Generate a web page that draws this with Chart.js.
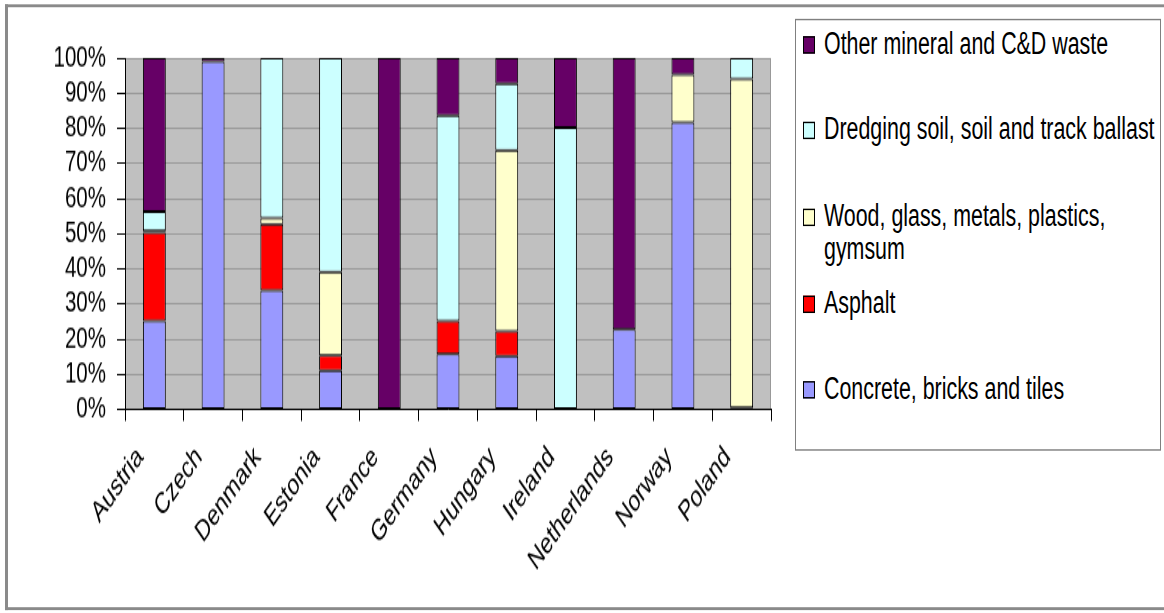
<!DOCTYPE html>
<html>
<head>
<meta charset="utf-8">
<script src="https://cdn.jsdelivr.net/npm/chart.js@4.4.0/dist/chart.umd.min.js"></script>
<style>
  html, body { margin: 0; padding: 0; background: #fff; overflow: hidden; width: 1164px; height: 613px; }
  /* the reference is stretched vertically, so draw at 423px high and stretch */
  #stage { position: absolute; left: 0; top: 0; width: 1164px; height: 423px;
           transform: scaleY(1.4492); transform-origin: 0 0; }
  #frame { position: absolute; left: 5px; top: 3px; width: 1200px; height: 414px;
           border-left: 3px solid #8a8a8a; border-top: 2px solid #8a8a8a; border-bottom: 2px solid #8a8a8a; }
  #chart { position: absolute; left: 0; top: 0; }
  #legend { position: absolute; left: 795px; top: 12.6px; width: 366px; height: 298px;
            border: 1px solid #808080; box-sizing: border-box; background: #fff;
            font-family: 'Liberation Sans', Arial, sans-serif; font-size: 21.4px; color: #000;
            padding-top: 5px; }
  .item { position: relative; height: 59.7px; line-height: 23px; }
  .item .box { position: absolute; left: 7px; top: 6px; width: 10px; height: 10px; border: 1px solid #000; }
  .item .txt { position: absolute; left: 28px; top: 0; width: 337px; white-space: normal; }
</style>
</head>
<body>
<div id="stage">
  <div id="frame"></div>
  <canvas id="chart" width="790" height="423"></canvas>
  <div id="legend"></div>
</div>
<script>
const countries = ['Austria', 'Czech', 'Denmark', 'Estonia', 'France', 'Germany',
  'Hungary', 'Ireland', 'Netherlands', 'Norway', 'Poland'];

// share of each waste type, %
const concrete = [25.2, 99.0, 33.8, 11.0, 0, 15.8, 15.2, 0, 22.8, 81.7, 0.5];
const asphalt  = [25.1, 0, 18.9, 4.4, 0, 9.4, 7.1, 0, 0, 0, 0];
const wood     = [0.5, 0, 1.7, 23.7, 0, 0, 51.4, 0, 0, 13.6, 93.5];
const dredging = [5.5, 0, 45.6, 60.9, 0, 58.4, 19.0, 80.2, 0, 0, 6.0];
const other    = [43.7, 1.0, 0, 0, 100, 16.4, 7.3, 19.8, 77.2, 4.7, 0];

const yStep = 10;
const yMax = 100;

const FONT = "'Liberation Sans', Arial, sans-serif";

function series(label, values, color) {
  return {
    label: label,
    data: values.map(v => v || null),
    backgroundColor: color,
    borderColor: '#000',
    borderWidth: 1,
    borderSkipped: false,
    barPercentage: 0.39,
    categoryPercentage: 1,
  };
}

// grey plot background like the old Excel charts
const plotBg = {
  id: 'plotBg',
  beforeDraw: function (chart) {
    const a = chart.chartArea;
    const ctx = chart.ctx;
    ctx.save();
    ctx.fillStyle = '#c0c0c0';
    ctx.fillRect(a.left, a.top, a.right - a.left, a.bottom - a.top);
    ctx.strokeStyle = '#999';
    ctx.lineWidth = 1;
    ctx.beginPath();
    ctx.moveTo(a.right - 0.5, a.top);
    ctx.lineTo(a.right - 0.5, a.bottom);
    ctx.stroke();
    ctx.restore();
  }
};

const ctx = document.getElementById('chart').getContext('2d');
const chart = new Chart(ctx, {
  type: 'bar',
  data: {
    labels: countries,
    datasets: [
      series('Concrete, bricks and tiles', concrete, '#9999ff'),
      series('Asphalt', asphalt, '#ff0000'),
      series('Wood, glass, metals, plastics, gymsum', wood, '#ffffcc'),
      series('Dredging soil, soil and track ballast', dredging, '#ccffff'),
      series('Other mineral and C&D waste', other, '#660066'),
    ]
  },
  options: {
    responsive: false,
    animation: false,
    layout: { padding: { left: 0, right: 19, top: 40, bottom: 0 } },
    plugins: {
      legend: { display: false },
      tooltip: { enabled: false },
    },
    scales: {
      x: {
        stacked: true,
        afterFit: function (scale) { scale.height = 140.5; },
        border: { color: '#000', width: 1 },
        grid: { drawOnChartArea: false, drawTicks: true, tickLength: 8, tickColor: '#000' },
        ticks: {
          autoSkip: false,
          minRotation: 45,
          maxRotation: 45,
          padding: 13,
          labelOffset: -14,
          color: '#000',
          font: { family: FONT, size: 20.5 },
        },
      },
      y: {
        stacked: true,
        min: 0,
        max: yMax,
        afterFit: function (scale) { scale.width = 125; },
        border: { color: '#000', width: 1 },
        grid: { color: '#999999', lineWidth: 1, tickLength: 8, tickColor: '#000' },
        ticks: {
          stepSize: yStep,
          autoSkip: false,
          padding: 11,
          color: '#000',
          font: { family: FONT, size: 20.5 },
          callback: v => v + '%',
        },
      },
    },
  },
  plugins: [plotBg],
});

// legend on the right, top series first
const legend = document.getElementById('legend');
chart.data.datasets.slice().reverse().forEach(ds => {
  const item = document.createElement('div');
  item.className = 'item';
  item.innerHTML = '<span class="box" style="background:' + ds.backgroundColor + '"></span>' +
    '<span class="txt">' + ds.label.replace('&', '&amp;') + '</span>';
  legend.appendChild(item);
});
</script>
</body>
</html>
